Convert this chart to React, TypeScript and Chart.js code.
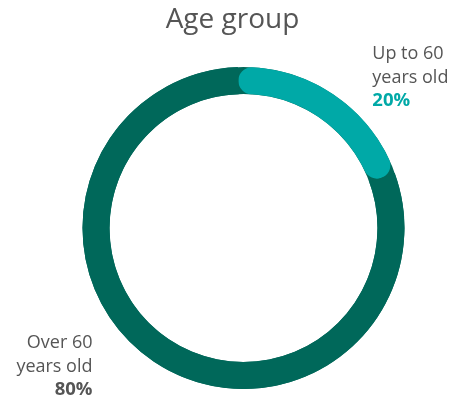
import React, { useEffect, useRef } from "react";
import { Chart, registerables } from "chart.js";

Chart.register(...registerables);

const TITLE = "Age group";
const CATEGORIES = ["Up to 60 years old", "Over 60 years old"];
const LABEL_LINES = [
  ["Up to 60", "years old"],
  ["Over 60", "years old"],
];
const VALUES = [20, 80];
const COLORS = ["#00a9a7", "#00685a"];
const TEXT_COLOR = "#555555";
const FONT = "'Open Sans', 'Noto Sans', sans-serif";

const ringPlugin = {
  id: "ringAndLabels",
  beforeDatasetsDraw(chart: any) {
    const meta = chart.getDatasetMeta(0);
    const arc = meta.data[0];
    if (!arc) return;
    const { x, y, innerRadius, outerRadius } = arc.getProps(
      ["x", "y", "innerRadius", "outerRadius"],
      true
    );
    const ctx = chart.ctx;
    ctx.save();
    ctx.beginPath();
    ctx.arc(x, y, outerRadius, 0, Math.PI * 2);
    ctx.arc(x, y, innerRadius, Math.PI * 2, 0, true);
    ctx.closePath();
    ctx.fillStyle = COLORS[1];
    ctx.fill();
    ctx.restore();
  },
  afterDraw(chart: any) {
    const meta = chart.getDatasetMeta(0);
    const arc = meta.data[0];
    if (!arc) return;
    const { x, y, outerRadius } = arc.getProps(["x", "y", "outerRadius"], true);
    const ctx = chart.ctx;
    const total = VALUES.reduce((a, b) => a + b, 0);
    ctx.save();
    // Title
    ctx.fillStyle = TEXT_COLOR;
    ctx.font = `400 28px ${FONT}`;
    ctx.textAlign = "center";
    ctx.textBaseline = "alphabetic";
    ctx.fillText(TITLE, x - 11, y - outerRadius - 39);

    const lh = 23.5;
    // Upper-right label (first category)
    const rx = x + outerRadius * 0.8;
    const ry = y - outerRadius - 8;
    ctx.textAlign = "left";
    ctx.font = `400 18px ${FONT}`;
    ctx.fillStyle = TEXT_COLOR;
    ctx.fillText(LABEL_LINES[0][0], rx, ry);
    ctx.fillText(LABEL_LINES[0][1], rx, ry + lh);
    ctx.font = `700 18.5px ${FONT}`;
    ctx.fillStyle = COLORS[0];
    ctx.fillText(`${Math.round((VALUES[0] / total) * 100)}%`, rx, ry + 2 * lh);

    // Lower-left label (second category)
    const lx = x - outerRadius + 10;
    const ly = y + outerRadius - 41;
    ctx.textAlign = "right";
    ctx.font = `400 18px ${FONT}`;
    ctx.fillStyle = TEXT_COLOR;
    ctx.fillText(LABEL_LINES[1][0], lx, ly);
    ctx.fillText(LABEL_LINES[1][1], lx, ly + lh);
    ctx.font = `700 18.5px ${FONT}`;
    ctx.fillStyle = TEXT_COLOR;
    ctx.fillText(`${Math.round((VALUES[1] / total) * 100)}%`, lx, ly + 2 * lh);
    ctx.restore();
  },
};

export default function App() {
  const ref = useRef<HTMLCanvasElement | null>(null);
  useEffect(() => {
    if (!ref.current) return;
    const chart = new Chart(ref.current, {
      type: "doughnut",
      data: {
        labels: CATEGORIES,
        datasets: [
          {
            data: VALUES,
            backgroundColor: COLORS,
            borderWidth: 0,
            borderRadius: (c: any) => (c.dataIndex === 0 ? 20 : 0),
          } as any,
        ],
      },
      options: {
        animation: false,
        responsive: false,
        maintainAspectRatio: false,
        cutout: "83.2%",
        rotation: -2,
        layout: { padding: { left: 82.5, right: 45.5, top: 67, bottom: 9 } },
        plugins: {
          legend: { display: false },
          title: { display: false },
          tooltip: { enabled: false },
        },
      },
      plugins: [ringPlugin],
    });
    return () => chart.destroy();
  }, []);
  return (
    <div style={{ position: "absolute", left: 0, top: 0, width: 450, height: 398, background: "#fff" }}>
      <canvas ref={ref} width={450} height={398} style={{ display: "block", width: 450, height: 398 }} />
    </div>
  );
}
